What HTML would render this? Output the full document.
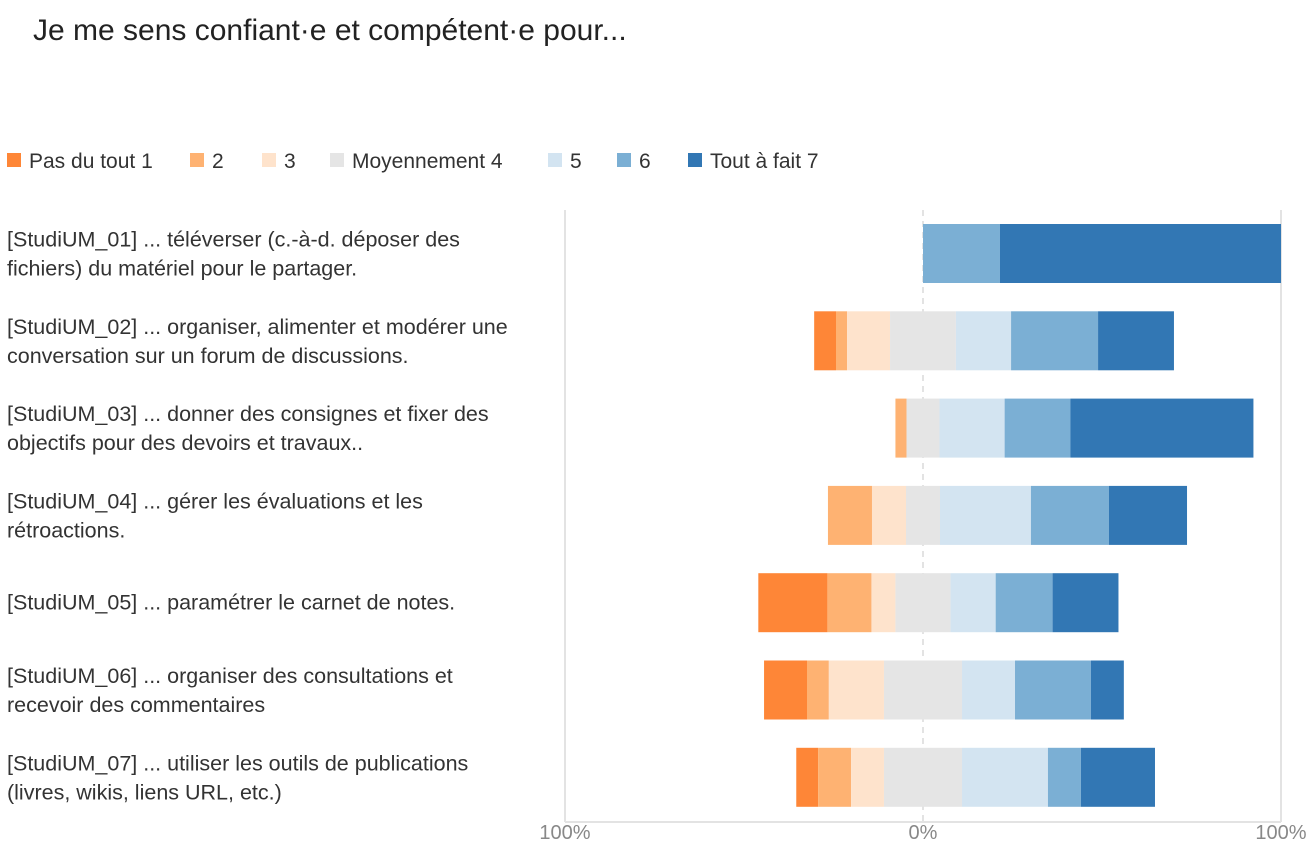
<!DOCTYPE html>
<html><head><meta charset="utf-8">
<style>
body{margin:0;background:#fff;width:1316px;height:856px;overflow:hidden;font-family:"Liberation Sans",sans-serif;}
svg text{font-family:"Liberation Sans",sans-serif;}
</style></head>
<body>
<svg id="chart" width="1316" height="856" xmlns="http://www.w3.org/2000/svg">
<text x="33" y="40" font-size="30" fill="#222">Je me sens confiant·e et compétent·e pour...</text>
<g id="legend"></g>
<g id="grid"></g>
<g id="labels"></g>
<g id="bars"></g>
<g id="ticks"></g>
</svg>
<script>
const seriesNames=["Pas du tout 1","2","3","Moyennement 4","5","6","Tout à fait 7"];
const colors=["#fe8637","#feb272","#fee3cc","#e5e5e5","#d3e4f1","#7bafd4","#3277b4"];
const categories=[
 ["[StudiUM_01] ... téléverser (c.-à-d. déposer des","fichiers) du matériel pour le partager."],
 ["[StudiUM_02] ... organiser, alimenter et modérer une","conversation sur un forum de discussions."],
 ["[StudiUM_03] ... donner des consignes et fixer des","objectifs pour des devoirs et travaux.."],
 ["[StudiUM_04] ... gérer les évaluations et les","rétroactions."],
 ["[StudiUM_05] ... paramétrer le carnet de notes."],
 ["[StudiUM_06] ... organiser des consultations et","recevoir des commentaires"],
 ["[StudiUM_07] ... utiliser les outils de publications","(livres, wikis, liens URL, etc.)"]
];
const s1=[0,6.1,0,0,19.3,12,6.1];
const s2=[0,3.1,3.1,12.3,12.3,6.1,9.2];
const s3=[0,12,0,9.5,6.7,15.4,9.2];
const s4=[0,18.4,9.2,9.5,15.4,21.8,21.8];
const s5=[0,15.4,18.2,25.4,12.6,14.8,24];
const s6=[21.5,24.3,18.4,21.8,15.9,21.2,9.2];
const s7=[78.5,21.2,51.1,21.8,18.4,9.2,20.7];
const tickValues=[-100,0,100];
const tickLabels=["100%","0%","100%"];
const series=[s1,s2,s3,s4,s5,s6,s7];
const NS="http://www.w3.org/2000/svg";
const x=v=>923+v*3.58;
const rowY=i=>224+i*87.3;
const bh=59;
function mk(tag,attrs,parent){const e=document.createElementNS(NS,tag);for(const k in attrs)e.setAttribute(k,attrs[k]);parent.appendChild(e);return e;}
const lg=document.getElementById('legend');
const lx=[7,190,262,330,548,617,688];
seriesNames.forEach((n,i)=>{
 const r=mk('rect',{x:lx[i],y:153,width:14,height:14,fill:colors[i]},lg);
 
 
 const t=mk('text',{x:lx[i]+22,y:168,'font-size':21,fill:'#333'},lg);t.textContent=n;
 
 
});
const g=document.getElementById('grid');
tickValues.forEach((v,i)=>{
 const l=mk('line',{x1:x(v),x2:x(v),y1:210,y2:822,stroke:'#e3e3e3','stroke-width':2},g);
 if(v===0)l.setAttribute('stroke-dasharray','6,5');
 
 
});
const base=mk('line',{x1:565,x2:1281,y1:822,y2:822,stroke:'#e3e3e3','stroke-width':2},g);


const tk=document.getElementById('ticks');
tickValues.forEach((v,i)=>{
 const t=mk('text',{x:x(v),y:839,'font-size':20,fill:'#888','text-anchor':'middle'},tk);t.textContent=tickLabels[i];
 
 
});
const lb=document.getElementById('labels'),bg=document.getElementById('bars');
categories.forEach((c,i)=>{
 const cy=rowY(i)+bh/2;
 const t=mk('text',{x:7,'font-size':21.5,fill:'#333'},lb);
 
 
 const y0=c.length===1?cy+7:cy-7;
 c.forEach((line,j)=>{const ts=mk('tspan',{x:7,y:y0+j*29},t);ts.textContent=line;});
 let start=-(s1[i]+s2[i]+s3[i]+s4[i]/2);
 series.forEach((s,k)=>{
  const v=s[i];
  if(v>0){
   const r=mk('rect',{x:x(start),y:rowY(i),width:v*3.58,height:bh,fill:colors[k]},bg);
   
   
  }
  start+=v;
 });
});
</script>
</body></html>
